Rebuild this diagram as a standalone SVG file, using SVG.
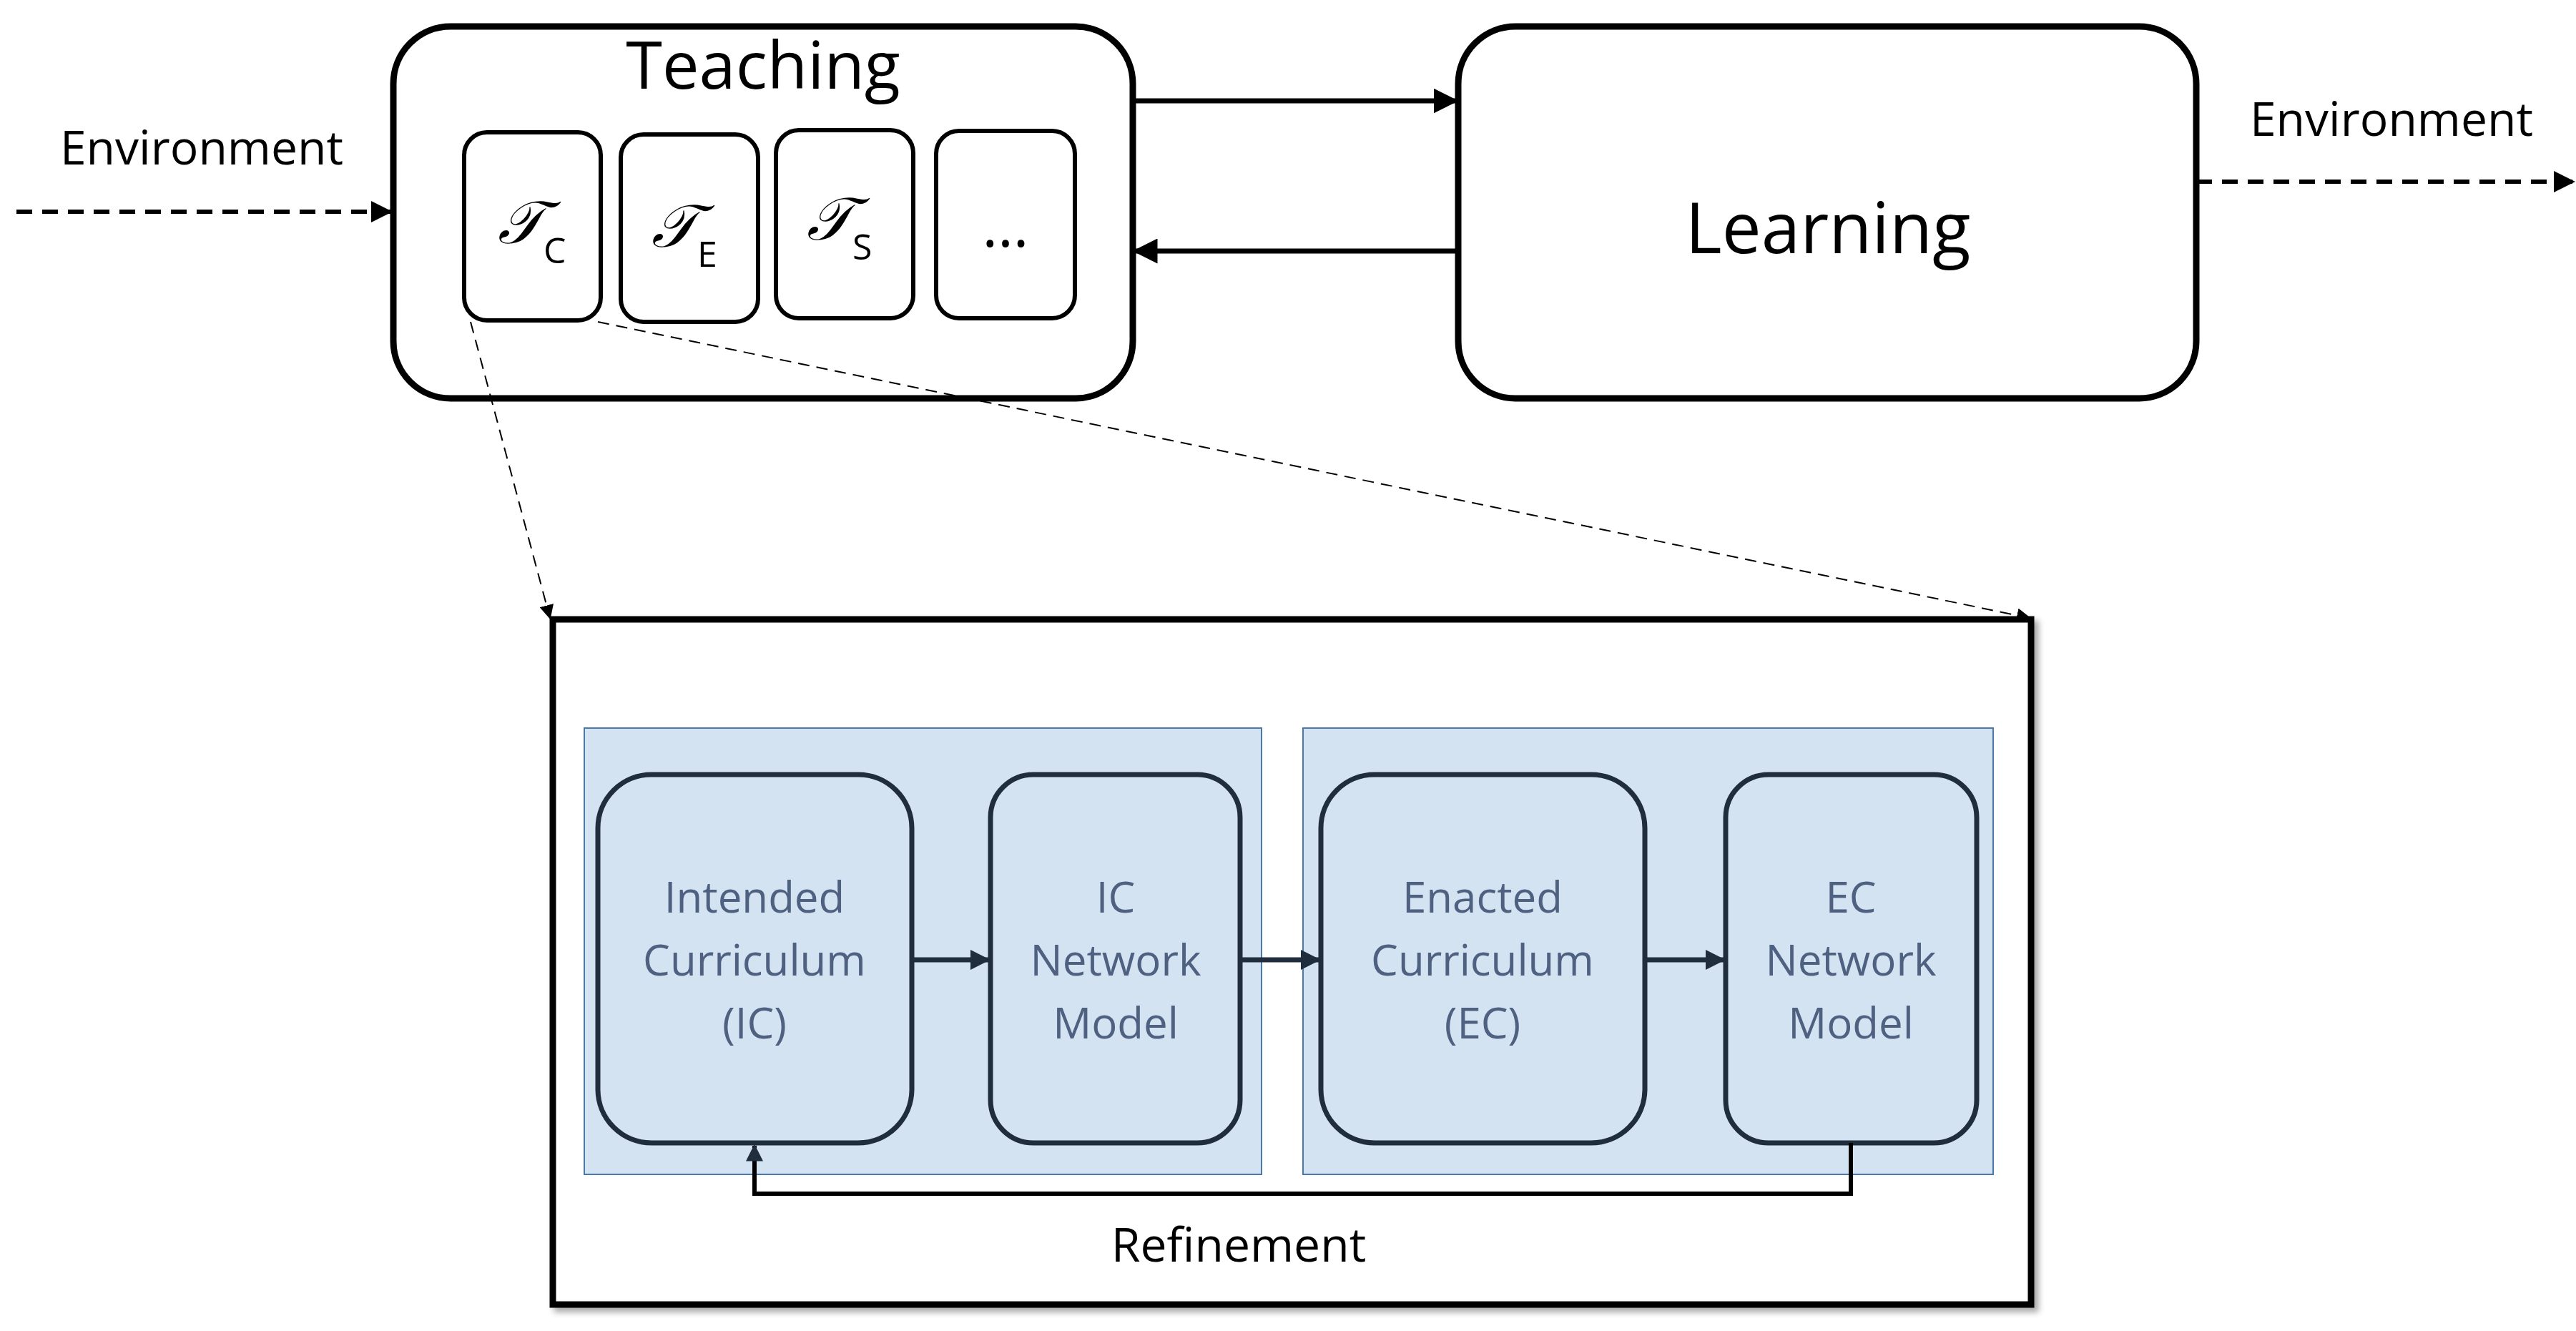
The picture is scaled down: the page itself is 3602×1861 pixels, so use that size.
<svg xmlns="http://www.w3.org/2000/svg" width="3602" height="1861" viewBox="0 0 3602 1861">
<defs>
<marker id="ah" viewBox="0 0 10 10" refX="9" refY="5" markerWidth="5" markerHeight="5" orient="auto" markerUnits="strokeWidth"><path d="M0,0 L10,5 L0,10 z" fill="#000"/></marker>
<marker id="ahd" viewBox="0 0 10 10" refX="9" refY="5" markerWidth="4" markerHeight="4" orient="auto" markerUnits="strokeWidth"><path d="M0,0 L10,5 L0,10 z" fill="#1f2d3d"/></marker>
<marker id="aht" viewBox="0 0 10 10" refX="9" refY="5" markerWidth="10" markerHeight="10" orient="auto" markerUnits="strokeWidth"><path d="M0,0 L10,5 L0,10 z" fill="#000"/></marker>
<filter id="sh" x="-5%" y="-5%" width="110%" height="110%"><feDropShadow dx="6" dy="6" stdDeviation="4" flood-color="#000" flood-opacity="0.35"/></filter>
</defs>
<style>
text{font-family:"Open Sans","Noto Sans","DejaVu Sans",sans-serif;}
.big{fill:#fff;stroke:#000;stroke-width:9;}
.sub{fill:#fff;stroke:#000;stroke-width:6;}
.panel{fill:#d4e3f2;stroke:#4a78a8;stroke-width:2;}
.inner{fill:#d4e3f2;stroke:#1f2d3d;stroke-width:7;}
.it{font-size:60px;fill:#4f6180;text-anchor:middle;}
.lbl{font-size:66px;fill:#000;text-anchor:middle;}
.scr{font-family:"DejaVu Serif","Noto Sans",serif;font-style:italic;font-size:84px;}
</style>
<rect width="3602" height="1861" fill="#fff"/>
<g id="teaching">
<rect class="big" x="550" y="37" width="1034" height="520" rx="80"/>
<text x="1067" y="124" font-size="92" text-anchor="middle">Teaching</text>
</g>
<g id="tc"><rect class="sub" x="649" y="185" width="191" height="263" rx="32"/><text x="696" y="340"><tspan class="scr">𝒯</tspan><tspan font-size="50" dy="28">C</tspan></text></g>
<g id="te"><rect class="sub" x="868" y="188" width="192" height="262" rx="32"/><text x="911" y="345"><tspan class="scr">𝒯</tspan><tspan font-size="50" dy="28">E</tspan></text></g>
<g id="ts"><rect class="sub" x="1085" y="182" width="192" height="263" rx="32"/><text x="1128" y="335"><tspan class="scr">𝒯</tspan><tspan font-size="50" dy="28">S</tspan></text></g>
<g id="tdots"><rect class="sub" x="1309" y="183" width="194" height="262" rx="32"/><text x="1406" y="345" font-size="84" text-anchor="middle">…</text></g>
<g id="learning">
<rect class="big" x="2039" y="37" width="1032" height="520" rx="80"/>
<text x="2556" y="354" font-size="98" text-anchor="middle">Learning</text>
</g>
<g id="env-left"><text x="282" y="230" class="lbl">Environment</text></g>
<g id="env-right"><text x="3344" y="190" class="lbl">Environment</text></g>
<g id="zoom">
<rect x="773" y="866" width="2067" height="958" fill="#fff" stroke="#000" stroke-width="9" filter="url(#sh)"/>
<rect class="panel" x="817" y="1018" width="947" height="624"/>
<rect class="panel" x="1822" y="1018" width="965" height="624"/>
</g>
<g id="ic"><rect class="inner" x="836" y="1083" width="439" height="515" rx="75"/><text class="it" x="1055" y="1276">Intended</text><text class="it" x="1055" y="1364">Curriculum</text><text class="it" x="1055" y="1452">(IC)</text></g>
<g id="icnm"><rect class="inner" x="1385" y="1083" width="349" height="515" rx="60"/><text class="it" x="1560" y="1276">IC</text><text class="it" x="1560" y="1364">Network</text><text class="it" x="1560" y="1452">Model</text></g>
<g id="ec"><rect class="inner" x="1847" y="1083" width="453" height="515" rx="75"/><text class="it" x="2073" y="1276">Enacted</text><text class="it" x="2073" y="1364">Curriculum</text><text class="it" x="2073" y="1452">(EC)</text></g>
<g id="ecnm"><rect class="inner" x="2413" y="1083" width="351" height="515" rx="60"/><text class="it" x="2588" y="1276">EC</text><text class="it" x="2588" y="1364">Network</text><text class="it" x="2588" y="1452">Model</text></g>
<g id="refine"><text x="1732" y="1764" class="lbl">Refinement</text></g>
<g id="connectors" fill="none">
<line x1="1584" y1="141" x2="2036" y2="141" stroke="#000" stroke-width="7" marker-end="url(#ah)"/>
<line x1="2039" y1="351" x2="1587" y2="351" stroke="#000" stroke-width="7" marker-end="url(#ah)"/>
<line x1="23" y1="296" x2="546" y2="296" stroke="#000" stroke-width="6" stroke-dasharray="22,14" marker-end="url(#ah)"/>
<line x1="3071" y1="254" x2="3598" y2="254" stroke="#000" stroke-width="6" stroke-dasharray="22,14" marker-end="url(#ah)"/>
<line x1="658" y1="450" x2="769" y2="864" stroke="#000" stroke-width="2" stroke-dasharray="16,10" marker-end="url(#aht)"/>
<line x1="836" y1="450" x2="2838" y2="864" stroke="#000" stroke-width="2" stroke-dasharray="16,10" marker-end="url(#aht)"/>
<line x1="1275" y1="1342" x2="1382" y2="1342" stroke="#1f2d3d" stroke-width="7" marker-end="url(#ahd)"/>
<line x1="1734" y1="1342" x2="1844" y2="1342" stroke="#1f2d3d" stroke-width="7" marker-end="url(#ahd)"/>
<line x1="2300" y1="1342" x2="2410" y2="1342" stroke="#1f2d3d" stroke-width="7" marker-end="url(#ahd)"/>
<polyline points="2588,1598 2588,1669 1055,1669 1055,1602" stroke="#000" stroke-width="6" marker-end="url(#ahd)"/>
</g>
</svg>
